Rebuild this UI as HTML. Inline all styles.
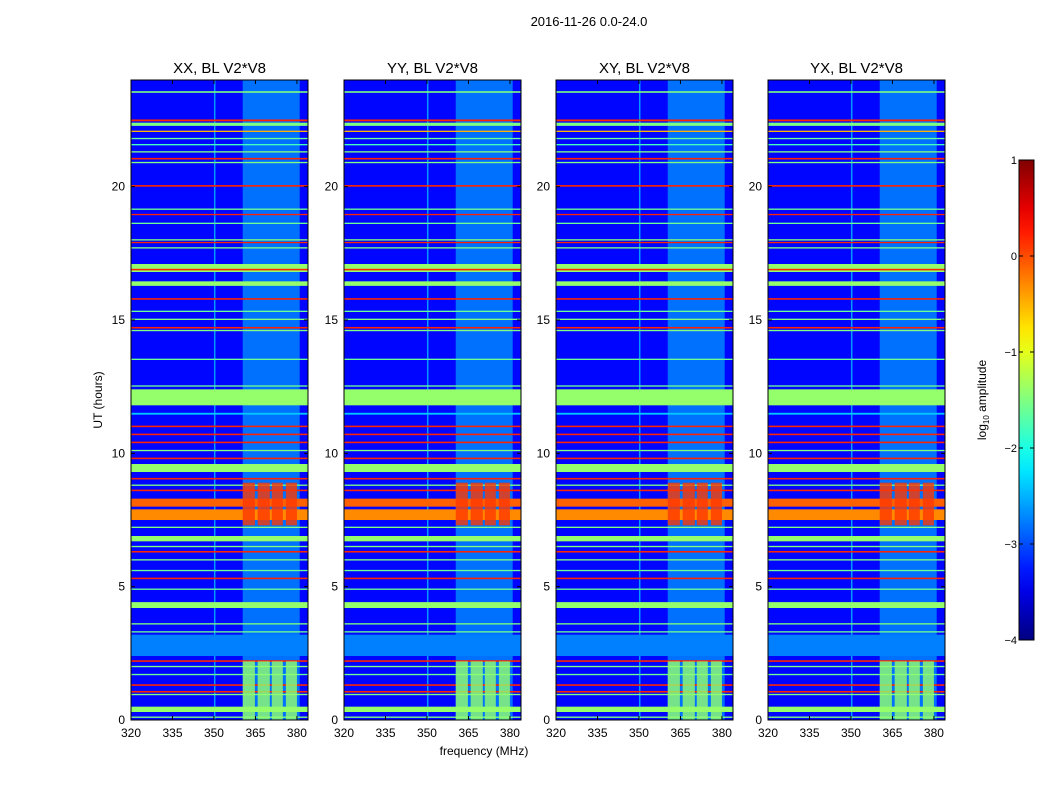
<!DOCTYPE html>
<html><head><meta charset="utf-8"><style>
body{margin:0;background:#fff;width:1050px;height:800px;overflow:hidden;font-family:"Liberation Sans",sans-serif}
svg text{font-family:"Liberation Sans",sans-serif}
</style></head><body>
<svg id="fig" width="1050" height="800" xmlns="http://www.w3.org/2000/svg">
<text x="589" y="26" font-size="13" text-anchor="middle">2016-11-26 0.0-24.0</text>
<text x="484" y="755" font-size="12" text-anchor="middle">frequency (MHz)</text>
<text x="0" y="0" font-size="12" text-anchor="middle" transform="translate(102,400) rotate(-90)">UT (hours)</text>
<g id="panels"></g>
<g id="cbar"></g>
</svg>
<script>
const panelTitles=["XX, BL V2*V8","YY, BL V2*V8","XY, BL V2*V8","YX, BL V2*V8"];
const xTicks=[320,335,350,365,380];
const yTicks=[0,5,10,15,20];
const cbTicks=[1,0,-1,-2,-3,-4];
const backgroundLevel=-3.35;
// horizontal RFI bands: start hour, end hour, log amplitude
const bandStart=[23.52,22.45,22.28,22.05,21.78,21.55,21.28,21.02,20.88,20.0,19.13,18.93,18.6,17.98,17.88,17.68,16.8,16.86,16.28,15.76,15.3,15.0,14.68,14.58,13.5,12.5,11.8,11.45,10.98,10.68,10.38,10.08,9.78,9.3,9.02,8.78,8.58,8.0,7.5,7.2,6.7,6.48,6.28,5.98,5.58,5.28,4.88,4.2,3.58,3.28,2.4,2.18,1.98,1.68,1.28,1.03,0.93,0.3,0.08];
const bandEnd  =[23.58,22.52,22.4,22.1,21.83,21.6,21.33,21.08,20.93,20.06,19.18,18.98,18.65,18.03,17.93,17.73,17.1,16.92,16.45,15.82,15.35,15.05,14.74,14.63,13.55,12.55,12.4,11.52,11.04,10.74,10.44,10.13,9.84,9.6,9.08,8.83,8.64,8.3,7.9,7.25,6.9,6.53,6.34,6.03,5.63,5.34,4.93,4.42,3.63,3.33,3.2,2.24,2.03,1.73,1.34,1.09,0.98,0.5,0.13];
const bandLevel=[-1.5,0.2,-1.5,-0.5,-1.6,-1.8,-1.5,0.2,-1.5,0.2,-1.6,0.2,-1.6,-1.5,0.2,-1.5,-1.4,0.2,-1.4,0.2,-1.6,-1.5,0.2,-1.5,-1.6,-1.6,-1.4,-2.4,0.2,0.2,0.2,-1.5,0.2,-1.4,0.2,-1.5,0.2,-0.1,-0.3,-1.5,-1.4,-1.5,0.2,-1.5,-1.6,0.2,-1.6,-1.4,-1.5,-1.6,-2.75,0.2,-1.5,-1.6,0.2,0.2,-1.5,-1.4,-1.5];
// wideband RFI region (MHz, all times)
const rfiFreq=[360.4,381];
const rfiLevel=-2.6;
// narrow vertical lines
const vlineFreq=[350];
const vlineLevel=[-2.3];
// bright sub-band blocks
const blockStart=[360.4,365.8,370.9,376];
const blockEnd=[364.8,370.2,374.9,380];
const blockTimeStart=[7.3,0.0];
const blockTimeEnd=[8.9,2.2];
const blockTimeLevel=[0.1,-1.4];

const NS="http://www.w3.org/2000/svg";
const panelX=[131,344,556,768], PW=177, PY=80, PH=640;
const fmin=320,fmax=384,hmin=0,hmax=24;
function jet(v){let t=Math.max(0,Math.min(1,(v+4)/5));const c=x=>Math.round(255*Math.max(0,Math.min(1,x)));return `rgb(${c(1.5-Math.abs(4*t-3))},${c(1.5-Math.abs(4*t-2))},${c(1.5-Math.abs(4*t-1))})`;}
function mk(tag,attrs,parent){const e=document.createElementNS(NS,tag);for(const k in attrs)e.setAttribute(k,attrs[k]);parent.appendChild(e);return e;}
const panels=document.getElementById('panels');
panelX.forEach((px,pi)=>{
  const xs=f=>px+(f-fmin)/(fmax-fmin)*PW;
  const ys=h=>PY+PH-(h-hmin)/(hmax-hmin)*PH;
  const g=mk('g',{},panels);
  
  
  const bg=mk('rect',{x:px,y:PY,width:PW,height:PH,fill:jet(backgroundLevel)},g);
  
  
  const r=mk('rect',{x:xs(rfiFreq[0]),y:PY,width:xs(rfiFreq[1])-xs(rfiFreq[0]),height:PH,fill:jet(rfiLevel),opacity:0.7},g);
  
  
  vlineFreq.forEach((f,i)=>{const l=mk('rect',{x:xs(f),y:PY,width:1.5,height:PH,fill:jet(vlineLevel[i]),opacity:0.7},g);
    
    });
  bandStart.forEach((s,i)=>{const y1=ys(bandEnd[i]),y2=ys(s);
    const b=mk('rect',{x:px,y:y1,width:PW,height:Math.max(1.2,y2-y1),fill:jet(bandLevel[i])},g);
    
    });
  blockTimeStart.forEach((ts,j)=>{blockStart.forEach((fs,k)=>{
    const b=mk('rect',{x:xs(fs),y:ys(blockTimeEnd[j]),width:xs(blockEnd[k])-xs(fs),height:ys(ts)-ys(blockTimeEnd[j]),fill:jet(blockTimeLevel[j]),opacity:0.8},g);
    
    });});
  const fr=mk('rect',{x:px,y:PY,width:PW,height:PH,fill:'none',stroke:'#000','stroke-width':1},g);
  
  
  const t=mk('text',{x:px+PW/2,y:73,'font-size':15,'text-anchor':'middle'},g);t.textContent=panelTitles[pi];
  
  
  xTicks.forEach(v=>{const x=xs(v);mk('line',{x1:x,x2:x,y1:PY+PH,y2:PY+PH-4,stroke:'#000'},g);mk('line',{x1:x,x2:x,y1:PY,y2:PY+4,stroke:'#000'},g);
    const tl=mk('text',{x:x,y:PY+PH+17,'font-size':12,'text-anchor':'middle'},g);tl.textContent=v;
    
    });
  yTicks.forEach(v=>{const y=ys(v);mk('line',{x1:px,x2:px+4,y1:y,y2:y,stroke:'#000'},g);mk('line',{x1:px+PW,x2:px+PW-4,y1:y,y2:y,stroke:'#000'},g);
    const tl=mk('text',{x:px-6,y:y+4,'font-size':12,'text-anchor':'end'},g);tl.textContent=v;
    
    });
});
// colorbar
const cb=document.getElementById('cbar');
const CX=1019,CY=160,CW=15,CH=480;
const defs=mk('defs',{},cb);const lg=mk('linearGradient',{id:'jetg',x1:0,y1:1,x2:0,y2:0},defs);
for(let i=0;i<=20;i++){mk('stop',{offset:i/20,'stop-color':jet(-4+5*i/20)},lg);}
mk('rect',{x:CX,y:CY,width:CW,height:CH,fill:'url(#jetg)',stroke:'#000'},cb);
cbTicks.forEach(v=>{const y=CY+CH-(v+4)/5*CH;mk('line',{x1:CX,x2:CX+4,y1:y,y2:y,stroke:'#000'},cb);mk('line',{x1:CX+CW,x2:CX+CW-4,y1:y,y2:y,stroke:'#000'},cb);
  const tl=mk('text',{x:CX-2,y:y+4,'font-size':11,'text-anchor':'end'},cb);tl.textContent=(v<0?'\u2212':'')+Math.abs(v);
  
  });
const cl=mk('text',{'font-size':12,'text-anchor':'middle',transform:'translate(986,400) rotate(-90)'},cb);
cl.innerHTML='log<tspan font-size="8" dy="3">10</tspan><tspan dy="-3"> amplitude</tspan>';


</script>
</body></html>
